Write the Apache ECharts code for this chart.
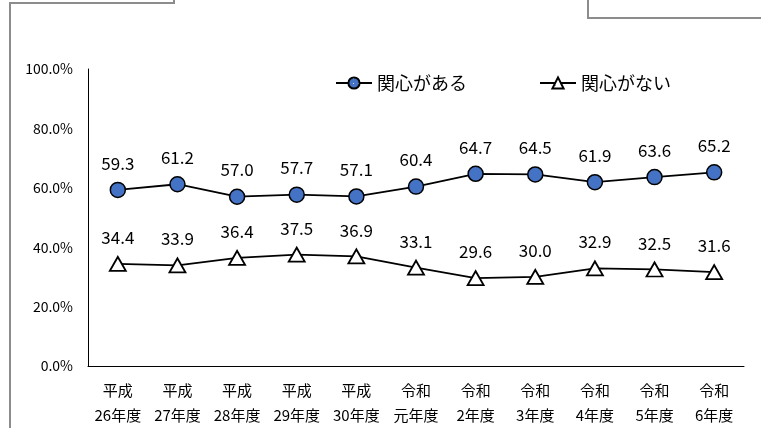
<!DOCTYPE html>
<html>
<head>
<meta charset="utf-8">
<script src="https://cdn.jsdelivr.net/npm/echarts@6/dist/echarts.min.js"></script>
<style>
  html, body { margin: 0; padding: 0; background: #fff; }
  #chart { width: 761px; height: 428px; }
</style>
</head>
<body>
<div id="chart"></div>
<script>
// 年度ラベル
const categories = [
  '平成\n26年度', '平成\n27年度', '平成\n28年度', '平成\n29年度', '平成\n30年度',
  '令和\n元年度', '令和\n2年度', '令和\n3年度', '令和\n4年度', '令和\n5年度', '令和\n6年度'
];
const interested = [59.3, 61.2, 57.0, 57.7, 57.1, 60.4, 64.7, 64.5, 61.9, 63.6, 65.2];
const notInterested = [34.4, 33.9, 36.4, 37.5, 36.9, 33.1, 29.6, 30.0, 32.9, 32.5, 31.6];
const seriesNames = ['関心がある', '関心がない'];

// 点々模様の塗り
function dotPattern(bg, dot, size) {
  const c = document.createElement('canvas');
  c.width = size; c.height = size;
  const ctx = c.getContext('2d');
  ctx.fillStyle = bg;
  ctx.fillRect(0, 0, size, size);
  ctx.fillStyle = dot;
  ctx.fillRect(Math.floor(size / 2), Math.floor(size / 2), 1, 1);
  return { image: c, repeat: 'repeat' };
}

const jpFont = '"Noto Sans CJK JP", "Liberation Sans", sans-serif';
const myChart = echarts.init(document.getElementById('chart'));

const option = {
  animation: false,
  backgroundColor: '#fff',
  textStyle: { fontFamily: jpFont, color: '#000' },
  grid: { left: 88, right: 17, top: 69, bottom: 61 },
  legend: {
    left: 330,
    top: 69,
    itemWidth: 36,
    itemHeight: 14,
    itemGap: 72,
    textStyle: { fontSize: 18, color: '#000', fontFamily: jpFont },
    data: seriesNames
  },
  xAxis: {
    type: 'category',
    data: categories,
    boundaryGap: true,
    axisLine: { lineStyle: { color: '#000', width: 1 } },
    axisTick: { show: false },
    axisLabel: {
      interval: 0,
      fontSize: 15,
      lineHeight: 25,
      margin: 12,
      color: '#000'
    }
  },
  yAxis: {
    type: 'value',
    min: 0,
    max: 100,
    interval: 20,
    axisLine: { show: true, lineStyle: { color: '#000', width: 1 } },
    axisTick: { show: false },
    splitLine: { show: false },
    axisLabel: {
      fontSize: 14,
      margin: 15,
      color: '#000',
      formatter: v => v.toFixed(1) + '%'
    }
  },
  graphic: [
    {
      type: 'polyline',
      shape: { points: [[10, 428], [10, 3], [174, 3], [174, 0]] },
      style: { stroke: '#8c8c8c', lineWidth: 2, fill: null }
    },
    {
      type: 'polyline',
      shape: { points: [[588, 0], [588, 18], [761, 18]] },
      style: { stroke: '#8c8c8c', lineWidth: 2, fill: null }
    }
  ],
  series: [
    {
      name: seriesNames[0],
      type: 'line',
      data: interested,
      symbol: 'circle',
      symbolSize: 15,
      lineStyle: { color: '#000', width: 1.8 },
      itemStyle: {
        color: dotPattern('#4472c4', '#dfe8f8', 5),
        borderColor: '#000',
        borderWidth: 1.5
      },
      label: {
        show: true,
        position: 'top',
        distance: 10,
        fontSize: 17,
        color: '#000',
        formatter: p => p.value.toFixed(1)
      }
    },
    {
      name: seriesNames[1],
      type: 'line',
      data: notInterested,
      symbol: 'triangle',
      symbolSize: [16, 14],
      lineStyle: { color: '#000', width: 1.8 },
      itemStyle: {
        color: dotPattern('#ffffff', '#8fb0e6', 6),
        borderColor: '#000',
        borderWidth: 1.8
      },
      label: {
        show: true,
        position: 'top',
        distance: 10,
        fontSize: 17,
        color: '#000',
        formatter: p => p.value.toFixed(1)
      }
    }
  ]
};

option && myChart.setOption(option);
</script>
</body>
</html>
